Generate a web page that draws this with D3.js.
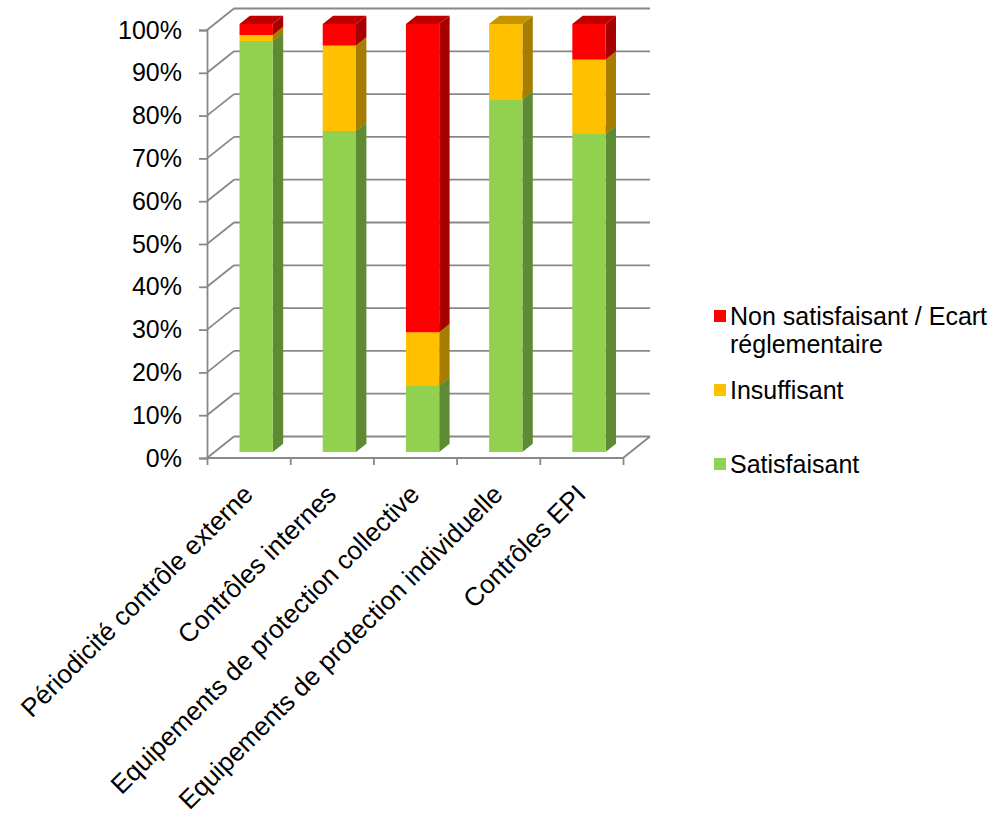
<!DOCTYPE html>
<html>
<head>
<meta charset="utf-8">
<script src="https://cdn.jsdelivr.net/npm/d3@7"></script>
<style>
  html, body { margin: 0; padding: 0; background: #ffffff; }
  svg { display: block; font-family: Arial, "Liberation Sans", sans-serif; }
</style>
</head>
<body>
<svg id="chart" width="1000" height="814"></svg>
<script>
// Categories and stacked percentages (bottom to top)
const categories = [
  "Périodicité contrôle externe",
  "Contrôles internes",
  "Equipements de protection collective",
  "Equipements de protection individuelle",
  "Contrôles EPI"
];
const satisfaisant    = [96.0, 75.0, 15.5, 82.4, 74.3];
const insuffisant     = [1.4, 20.0, 12.5, 17.6, 17.4];
const nonSatisfaisant = [2.6, 5.0, 72.0, 0.0, 8.3];

const yTicks = [0, 10, 20, 30, 40, 50, 60, 70, 80, 90, 100];

// Face colours per series: front, side, top
const palette = [
  { front: "#92D050", side: "#5F8A34", top: "#76A83F" },
  { front: "#FFC000", side: "#A67D00", top: "#C49500" },
  { front: "#FF0000", side: "#A60000", top: "#C00000" }
];

const svg = d3.select("#chart");
const gridColor = "#888888";

// Oblique projection: depth z in [0,1] shifts right and up
const depthDX = 27, depthDY = 21.5;
const x = d3.scaleBand().domain(categories).range([207, 623]).paddingInner(0.6).paddingOuter(0.3);
const y = d3.scaleLinear().domain([0, 100]).range([458, 30]);
const P = (px, v, z) => [px + z * depthDX, y(v) - z * depthDY];

const rows = categories.map((c, i) => ({ cat: c, vals: [satisfaisant[i], insuffisant[i], nonSatisfaisant[i]] }));
const stack = d3.stack().keys([0, 1, 2]).value((d, k) => d.vals[k]);
const layers = stack(rows);

// Walls and floor
const walls = svg.append("g").attr("stroke", gridColor).attr("stroke-width", 1.8).attr("fill", "none");
const [x0, x1] = x.range();
yTicks.forEach(t => {
  const a = P(x0, t, 1), b = P(x1, t, 1), f = P(x0, t, 0);
  walls.append("line").attr("x1", a[0]).attr("y1", a[1]).attr("x2", b[0]).attr("y2", b[1]);
  walls.append("line").attr("x1", f[0]).attr("y1", f[1]).attr("x2", a[0]).attr("y2", a[1]);
});
{
  const fl = P(x0, 0, 0), fr = P(x1, 0, 0), br = P(x1, 0, 1);
  walls.append("polyline").attr("points", [fl, fr, br].map(p => p.join(",")).join(" "));
}

// Value axis
const yAxis = d3.axisLeft(y).tickValues(yTicks).tickFormat(d => d + "%").tickSize(8).tickPadding(17);
const yg = svg.append("g").attr("transform", `translate(${x0},0)`).call(yAxis);
yg.selectAll("path, line").attr("stroke", gridColor).attr("stroke-width", 1.8);
yg.selectAll("text").attr("font-size", 25).attr("fill", "#000").attr("font-family", "Arial, 'Liberation Sans', sans-serif");

// Category axis ticks at band boundaries
const bscale = d3.scaleLinear().domain([0, categories.length]).range([x0, x1]);
const xg = svg.append("g").attr("transform", `translate(0,${y(0)})`)
  .call(d3.axisBottom(bscale).tickValues(d3.range(categories.length + 1)).tickFormat("").tickSize(7));
xg.select(".domain").remove();
xg.selectAll("line").attr("stroke", gridColor).attr("stroke-width", 1.8);

// Bars
const zf = 0.28, zb = 0.665;
const poly = pts => pts.map(p => p.join(",")).join(" ");
const barsG = svg.append("g");
rows.forEach((r, i) => {
  const bx0 = x(r.cat), bx1 = x(r.cat) + x.bandwidth();
  const g = barsG.append("g");
  layers.forEach((layer, k) => {
    const lo = layer[i][0], hi = layer[i][1];
    if (hi - lo <= 0) return;
    const c = palette[k];
    g.append("polygon").attr("fill", c.side)
      .attr("points", poly([P(bx1, lo, zf), P(bx1, lo, zb), P(bx1, hi, zb), P(bx1, hi, zf)]));
    g.append("polygon").attr("fill", c.top)
      .attr("points", poly([P(bx0, hi, zf), P(bx1, hi, zf), P(bx1, hi, zb), P(bx0, hi, zb)]));
    g.append("polygon").attr("fill", c.front)
      .attr("points", poly([P(bx0, lo, zf), P(bx1, lo, zf), P(bx1, hi, zf), P(bx0, hi, zf)]));
  });
});

// Rotated category labels
svg.append("g").selectAll("text").data(categories).join("text")
  .attr("transform", d => `translate(${x(d) + x.bandwidth() / 2 + 6},${y(0) + 38}) rotate(-45)`)
  .attr("text-anchor", "end")
  .attr("font-size", 26)
  .attr("fill", "#000")
  .text(d => d);

// Legend (top entry = last series)
const legend = svg.append("g");
const legendItems = [
  { k: 2, lines: ["Non satisfaisant / Ecart", "réglementaire"], base: 325 },
  { k: 1, lines: ["Insuffisant"], base: 399 },
  { k: 0, lines: ["Satisfaisant"], base: 473 }
];
legendItems.forEach(it => {
  legend.append("rect").attr("x", 714).attr("y", it.base - 15).attr("width", 12).attr("height", 12)
    .attr("fill", palette[it.k].front);
  const t = legend.append("text").attr("x", 730).attr("y", it.base).attr("font-size", 25).attr("fill", "#000");
  it.lines.forEach((ln, j) => t.append("tspan").attr("x", 730).attr("dy", j === 0 ? 0 : 28).text(ln));
});
</script>
</body>
</html>
